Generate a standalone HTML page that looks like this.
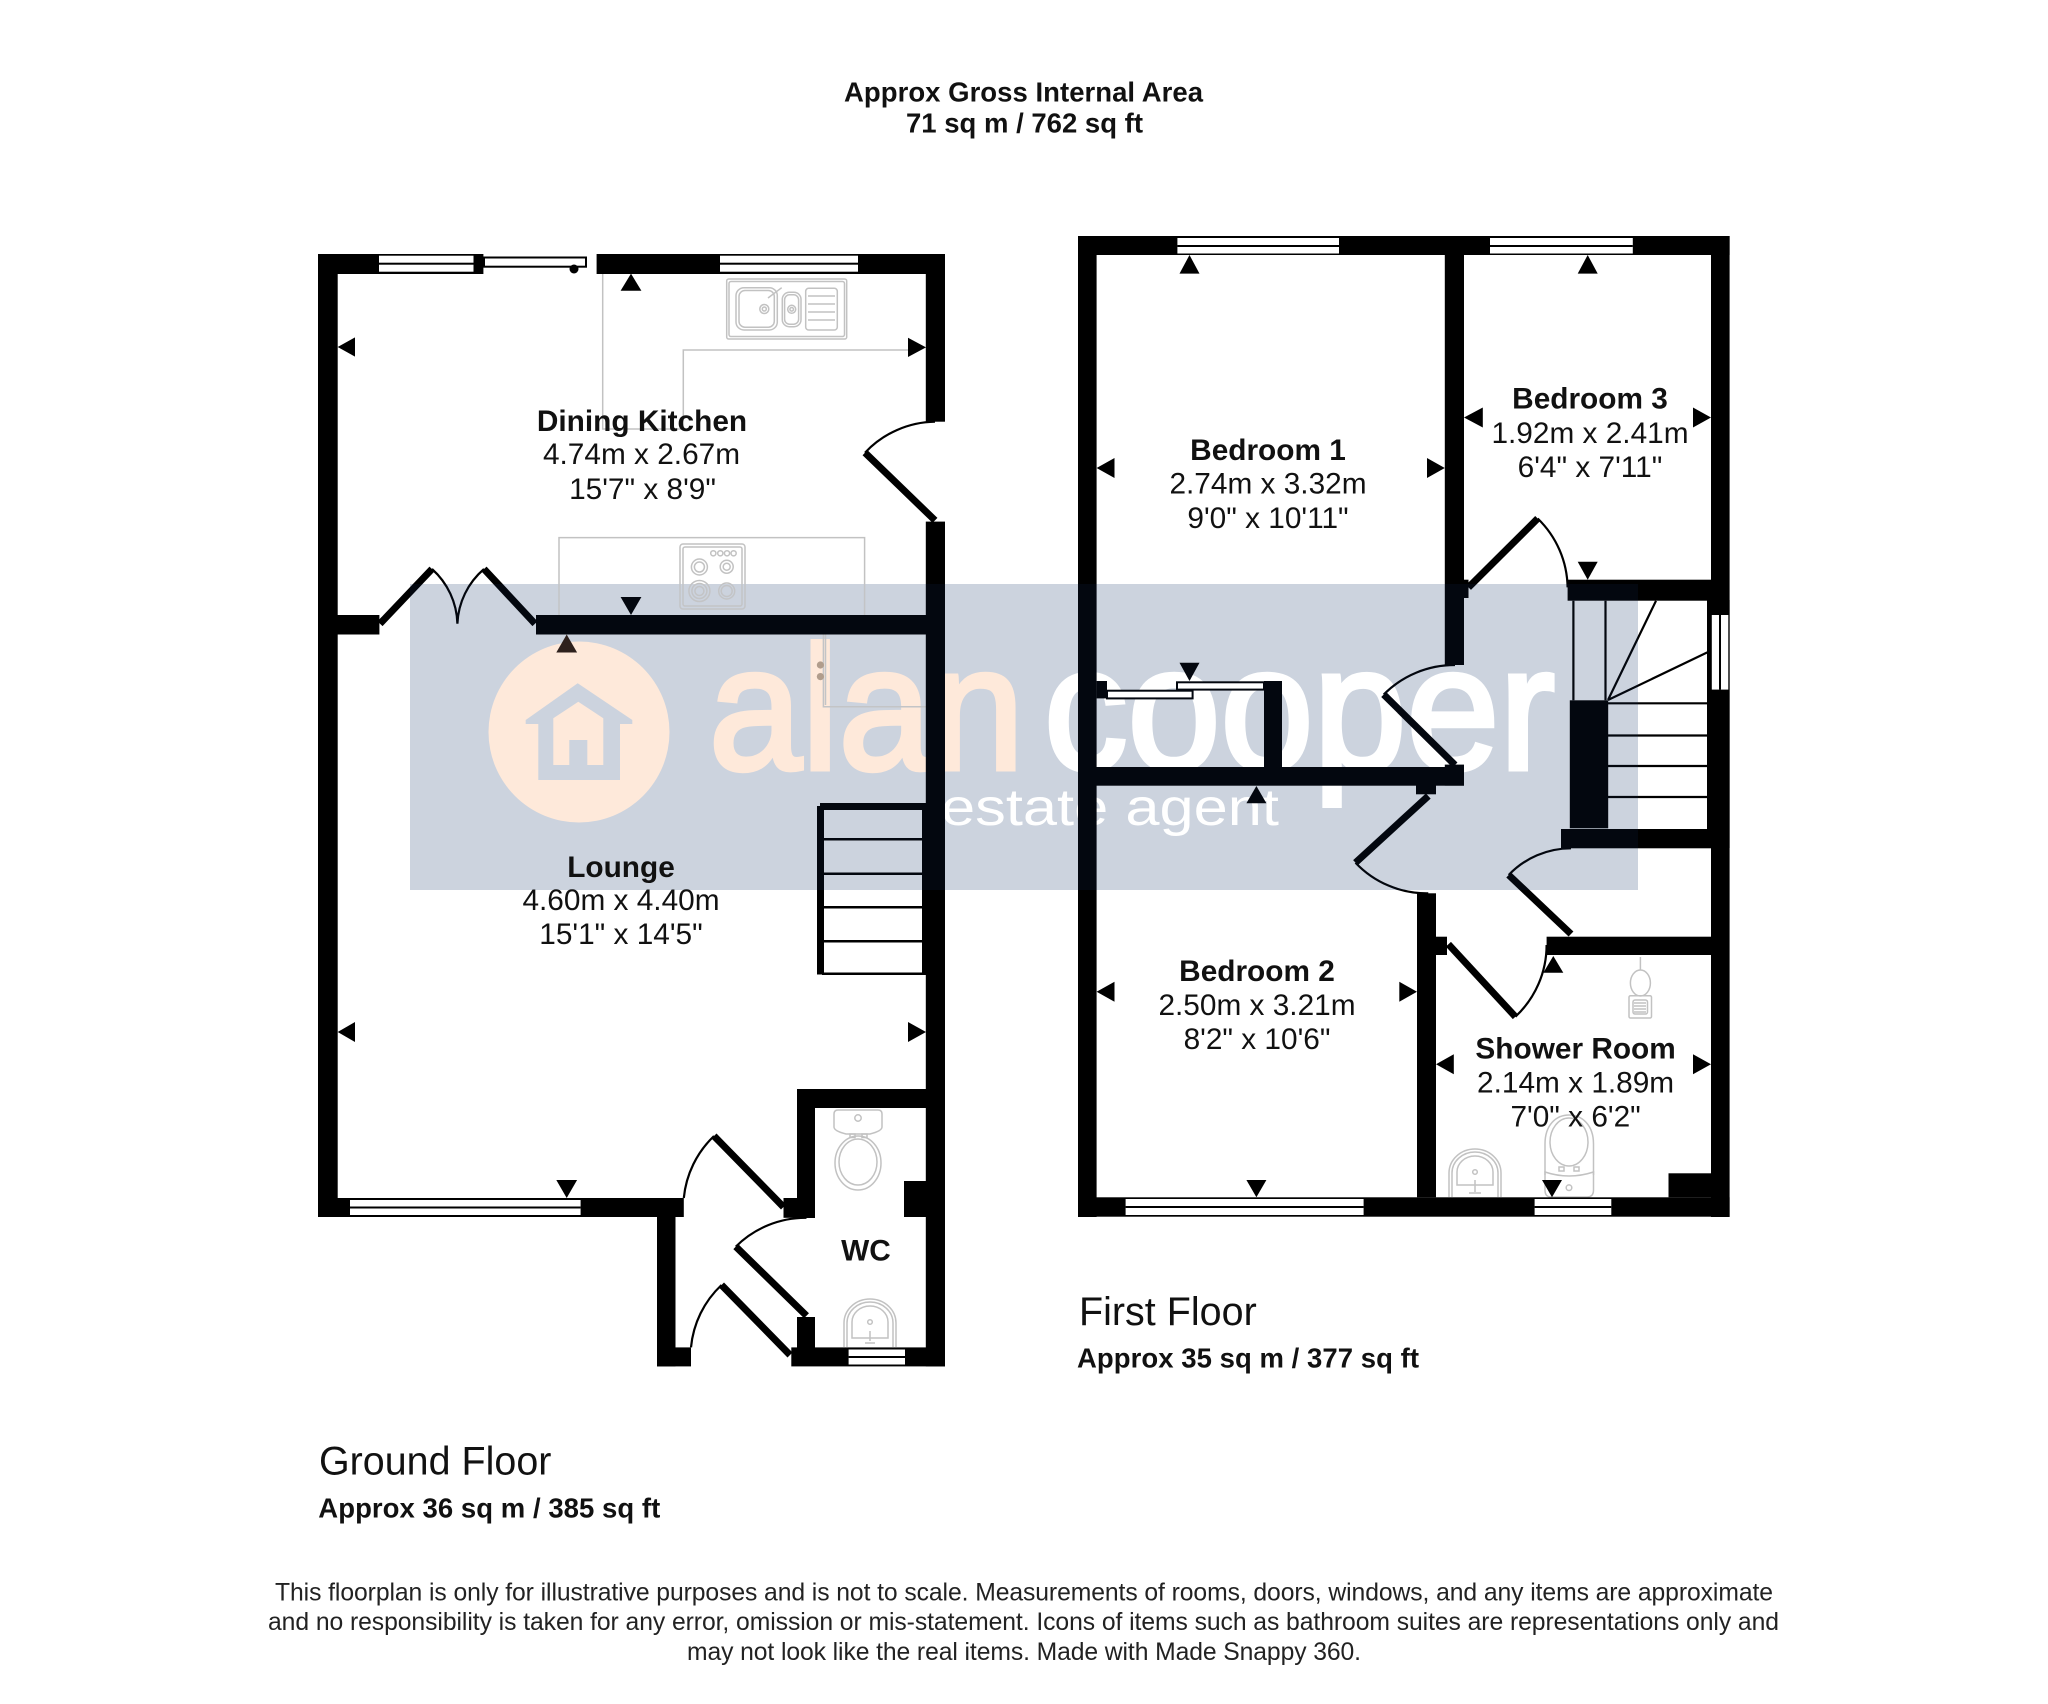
<!DOCTYPE html>
<html><head><meta charset="utf-8"><title>Floorplan</title>
<style>
html,body{margin:0;padding:0;background:#fff;width:2048px;height:1704px;overflow:hidden}
svg{display:block}
text{font-family:"Liberation Sans",sans-serif;fill:#111}
.b{font-weight:700;font-size:29.8px}
.r{font-size:29.8px}
.m{text-anchor:middle}
.g{fill:none;stroke:#c2c2c2;stroke-width:1.5}
.l{fill:none;stroke:#000;stroke-width:7}
.a{fill:none;stroke:#000;stroke-width:2.2}
.t{fill:none;stroke:#000;stroke-width:2.5}
</style></head><body>
<svg xmlns="http://www.w3.org/2000/svg" width="2048" height="1704" viewBox="0 0 2048 1704">
<rect width="2048" height="1704" fill="#fff"/>

<!-- watermark -->
<rect x="410" y="584" width="1228" height="306" fill="#cbd2dc"/>
<circle cx="579" cy="732" r="90.5" fill="#fee8d8"/>
<path d="M577.7 683.3L632.3 720V724H620V780H538.3V724H525.7V720Z" fill="#cbd2dc"/>
<path d="M578.3 701.7L603.3 718.3V765H553.3V718.3Z" fill="#fee8d8"/>
<rect x="569.3" y="740" width="18" height="25" fill="#cbd2dc"/>
<text x="709" y="769" font-size="176" textLength="315" lengthAdjust="spacingAndGlyphs" style="fill:#fee8d8;stroke:#fee8d8;stroke-width:5">alan</text>
<text x="1044" y="769" font-size="176" textLength="511" lengthAdjust="spacingAndGlyphs" style="fill:#fff;stroke:#fff;stroke-width:5">cooper</text>
<text x="941" y="825" font-size="52" textLength="338" lengthAdjust="spacingAndGlyphs" style="fill:#fff">estate agent</text>

<!-- GROUND FLOOR fixtures -->
<g class="g">
<path d="M602.7 274V429H683.3V350H911"/>
<path d="M559 615V537.6H864.6V615"/>
<path d="M823.4 634.5V706.8H926M825.5 634.5V705"/>
<!-- sink -->
<rect x="726.7" y="279" width="120" height="60" rx="2"/>
<rect x="729" y="281.5" width="115.5" height="55" rx="2"/>
<rect x="736" y="287.7" width="41.3" height="42.3" rx="8"/>
<rect x="739" y="290.5" width="35.3" height="36.7" rx="6"/>
<circle cx="764.3" cy="309" r="4.5"/><circle cx="764.3" cy="309" r="2"/>
<path d="M768 298L781.7 287.7"/>
<rect x="782.3" y="292.3" width="18.7" height="34.4" rx="7"/>
<rect x="784.6" y="294.8" width="14" height="29.4" rx="5"/>
<circle cx="791.7" cy="309.3" r="4"/><circle cx="791.7" cy="309.3" r="1.8"/>
<rect x="805.7" y="288.3" width="31.6" height="41.7" rx="3"/>
<path d="M808 296h27M808 304h27M808 312h27M808 320h27"/>
<!-- hob -->
<rect x="680" y="544" width="65" height="65" rx="3"/>
<rect x="683" y="547" width="59" height="59" rx="2"/>
<circle cx="713.3" cy="553.3" r="2.6"/><circle cx="720.3" cy="553.3" r="2.6"/><circle cx="727" cy="553.3" r="2.6"/><circle cx="733.6" cy="553.3" r="2.6"/>
<circle cx="699.4" cy="567" r="8"/><circle cx="699.4" cy="567" r="5"/>
<circle cx="726.7" cy="566.7" r="6.5"/><circle cx="726.7" cy="566.7" r="3.5"/>
<circle cx="699.4" cy="591" r="10.5"/><circle cx="699.4" cy="591" r="7.5"/><circle cx="699.4" cy="591" r="4.5"/>
<circle cx="726.7" cy="591" r="8"/><circle cx="726.7" cy="591" r="5.5"/>
<!-- WC toilet -->
<path d="M838 1110H878Q882 1110 882 1114V1127Q882 1131 870 1134H846Q834 1131 834 1127V1114Q834 1110 838 1110Z"/>
<circle cx="858" cy="1118" r="3.2"/>
<rect x="850" y="1134" width="5" height="3.5"/><rect x="862" y="1134" width="5" height="3.5"/>
<ellipse cx="858" cy="1163" rx="23" ry="27"/>
<ellipse cx="858" cy="1162" rx="19" ry="23"/>
<!-- WC basin -->
<path d="M844 1347V1323A26 24 0 0 1 896 1323V1347"/>
<path d="M847 1347V1323A23 21 0 0 1 893 1323V1347"/>
<path d="M852 1338V1322A18 16 0 0 1 888 1322V1338Z"/>
<circle cx="870" cy="1322" r="2.3"/>
<path d="M870 1331V1341M865 1343h10"/>
<!-- shower head -->
<path d="M1640.4 957V970"/>
<ellipse cx="1640.4" cy="983" rx="10" ry="13"/>
<rect x="1629" y="995.7" width="22.5" height="22.3" rx="1.5"/>
<rect x="1633" y="1000" width="14.5" height="14" rx="2"/>
<path d="M1634 1003h12M1634 1006h12M1634 1009h12M1634 1012h12"/>
<!-- shower toilet -->
<path d="M1545 1175V1144C1545 1125 1556 1115 1569 1115C1582 1115 1593.5 1125 1593.5 1144V1175"/>
<ellipse cx="1569" cy="1142" rx="19" ry="24"/>
<path d="M1545 1172Q1569 1180 1593.5 1172V1190Q1593.5 1197 1587 1197H1551Q1545 1197 1545 1190Z"/>
<circle cx="1569" cy="1187.7" r="2.8"/>
<rect x="1559" y="1167" width="5" height="4"/><rect x="1574" y="1167" width="5" height="4"/>
<!-- shower basin -->
<path d="M1449 1197V1173A26 24 0 0 1 1501 1173V1197"/>
<path d="M1452 1197V1173A23 21 0 0 1 1498 1173V1197"/>
<path d="M1457 1185V1172A18 16 0 0 1 1493 1172V1185Z"/>
<circle cx="1475" cy="1172" r="2.3"/>
<path d="M1475 1180V1192M1469 1193h12"/>
</g>
<circle cx="820.4" cy="665" r="3.6" fill="#b09a85"/>
<circle cx="820.4" cy="676.6" r="3.6" fill="#b09a85"/>

<!-- GROUND walls -->
<g fill="#000">
<rect x="318" y="254" width="165.4" height="20"/>
<rect x="596.6" y="254" width="348.4" height="20"/>
<rect x="318" y="254" width="19.7" height="963"/>
<rect x="925.8" y="254" width="19.2" height="167.7"/>
<rect x="925.8" y="521.6" width="19.2" height="844.8"/>
<rect x="337" y="615" width="42.4" height="19.5"/>
<rect x="536" y="615" width="390" height="19.5"/>
<rect x="318" y="1198" width="365.8" height="19"/>
<rect x="657" y="1198" width="18.5" height="168.4"/>
<rect x="657" y="1347.4" width="34" height="19"/>
<rect x="797" y="1089" width="129" height="19"/>
<rect x="797" y="1089" width="18" height="128"/>
<rect x="783.5" y="1198" width="23" height="19.8"/>
<rect x="797" y="1198" width="18" height="20"/>
<rect x="904" y="1181" width="22" height="36"/>
<rect x="797" y="1317" width="18" height="31"/>
<rect x="791.3" y="1347.4" width="153.7" height="19"/>
<!-- stairs ground -->
<rect x="820" y="803" width="106" height="7"/>
<rect x="817" y="806" width="7" height="168.5"/>
<rect x="922" y="803" width="5" height="172"/>
</g>
<path class="t" d="M822 839.3H922M822 873.7H922M822 907.3H922M822 941.3H922M822 973.8H926"/>

<!-- windows ground -->
<g fill="#fff">
<rect x="379" y="255.7" width="94.5" height="16"/>
<rect x="720" y="255.7" width="138" height="16"/>
<rect x="350" y="1200" width="230.6" height="15"/>
<rect x="848.6" y="1349.5" width="56.4" height="15"/>
<rect x="484" y="257.5" width="102" height="9.2" stroke="#000" stroke-width="2"/>
</g>
<g fill="#000">
<rect x="379" y="262.7" width="94.5" height="2"/>
<rect x="720" y="262.7" width="138" height="2"/>
<rect x="350" y="1206.5" width="230.6" height="2"/>
<rect x="848.6" y="1356" width="56.4" height="2"/>
<circle cx="574" cy="269" r="4.5"/>
</g>

<!-- doors ground -->
<path class="l" d="M935 520.4L865 452.7"/>
<path class="a" d="M865 452.7A98 98 0 0 1 935 421.7"/>
<path class="l" d="M380 623.7L432 569M535 623.7L484 569"/>
<path class="a" d="M432 569A76 76 0 0 1 457.4 623.7M484 569A76 76 0 0 0 457.4 623.7"/>
<path class="l" d="M783.5 1207L714 1136"/>
<path class="a" d="M714 1136A99 99 0 0 0 683.8 1198"/>
<path class="l" d="M806.5 1315.8L735.8 1246.6"/>
<path class="a" d="M735.8 1246.6A99 99 0 0 1 806.5 1217.8"/>
<path class="l" d="M790 1355L721.5 1285"/>
<path class="a" d="M721.5 1285A98 98 0 0 0 691 1347.4"/>

<!-- FIRST walls -->
<g fill="#000">
<rect x="1078" y="236" width="651.6" height="19"/>
<rect x="1078" y="236" width="18.6" height="981"/>
<rect x="1711" y="236" width="18.6" height="981"/>
<rect x="1078" y="1197.3" width="651.6" height="19.4"/>
<rect x="1444.8" y="255" width="19.2" height="410"/>
<rect x="1464" y="579.7" width="4.5" height="18.3"/>
<rect x="1567.6" y="579.7" width="143.4" height="21"/>
<rect x="1096" y="767" width="368" height="18.7"/>
<rect x="1444.8" y="764.6" width="19.2" height="21"/>
<rect x="1264" y="681" width="18" height="86"/>
<rect x="1096.6" y="681" width="10.4" height="17.4"/>
<rect x="1416" y="785" width="20" height="9.3"/>
<rect x="1417" y="893.3" width="19" height="304"/>
<rect x="1436" y="936.7" width="11" height="18.3"/>
<rect x="1546.6" y="936.7" width="164.4" height="18.3"/>
<rect x="1569.8" y="700.3" width="38.4" height="128"/>
<rect x="1561" y="829" width="150" height="19.3"/>
<rect x="1668.5" y="1173.3" width="42.5" height="24"/>
<rect x="1707" y="600" width="22.6" height="248"/>
</g>
<path class="t" d="M1573.4 600.8V700.3M1605.5 600.8V700.3M1608 700L1656 600.8M1608 700L1707.3 652.4M1608 703.3H1707M1608 735.5H1707M1608 766H1707M1608 797H1707" style="stroke-width:2.2"/>

<!-- windows first -->
<g fill="#fff">
<rect x="1177.4" y="238" width="161.6" height="15.5"/>
<rect x="1490" y="238" width="142.8" height="15.5"/>
<rect x="1125.6" y="1199" width="238" height="16"/>
<rect x="1534.6" y="1199" width="76.7" height="16"/>
<rect x="1711.8" y="615" width="16.5" height="74.6"/>
<rect x="1107" y="690.7" width="85.6" height="7.7" stroke="#000" stroke-width="2"/>
<rect x="1177" y="682.3" width="87" height="7.3" stroke="#000" stroke-width="2"/>
</g>
<g fill="#000">
<rect x="1177.4" y="245" width="161.6" height="2"/>
<rect x="1490" y="245" width="142.8" height="2"/>
<rect x="1125.6" y="1206" width="238" height="2"/>
<rect x="1534.6" y="1206" width="76.7" height="2"/>
<rect x="1719" y="615" width="2" height="74.6"/>
</g>

<!-- doors first -->
<path class="l" d="M1468.5 587.4L1537.7 518.5"/>
<path class="a" d="M1537.7 518.5A98 98 0 0 1 1567.6 587.4"/>
<path class="l" d="M1455 765L1383.7 694.5"/>
<path class="a" d="M1383.7 694.5A100 100 0 0 1 1455 665"/>
<path class="l" d="M1428.3 796L1355.5 862.7"/>
<path class="a" d="M1355.5 862.7A98 98 0 0 0 1428.3 893.3"/>
<path class="l" d="M1571 934L1508.7 875"/>
<path class="a" d="M1508.7 875A86 86 0 0 1 1571 848.3"/>
<path class="l" d="M1448.4 944.3L1515.4 1016.7"/>
<path class="a" d="M1515.4 1016.7A98 98 0 0 0 1546.6 945"/>

<!-- arrowheads -->
<g fill="#000">
<path d="M620.6 290.8L631 273.6L641.4 290.8Z"/>
<path d="M337.7 347L355 337.4V356.6Z"/>
<path d="M926 347.4L908 337.8V357Z"/>
<path d="M620.6 597L631 615L641.4 597Z"/>
<path d="M556.3 652.5L566.7 634.5L577.1 652.5Z" fill="#2a1a0e"/>
<path d="M337.7 1032L355 1022V1042Z"/>
<path d="M926 1032L908 1022V1042Z"/>
<path d="M556.3 1180L566.7 1198L577.1 1180Z"/>
<path d="M1179.5 273.6L1189.5 255L1199.5 273.6Z"/>
<path d="M1577.7 273.6L1587.7 255L1597.7 273.6Z"/>
<path d="M1096.6 468L1114.5 458V478Z"/>
<path d="M1444.8 468L1427 458V478Z"/>
<path d="M1464 417.5L1482.8 407.5V427.5Z"/>
<path d="M1711 417.5L1693 407.5V427.5Z"/>
<path d="M1577.7 561.7L1587.7 579.7L1597.7 561.7Z"/>
<path d="M1179.5 662.8L1189.5 681L1199.5 662.8Z"/>
<path d="M1246.4 803.3L1256.4 786L1266.4 803.3Z"/>
<path d="M1096.6 991.7L1114.5 981.7V1001.7Z"/>
<path d="M1417 991.7L1399.3 981.7V1001.7Z"/>
<path d="M1246.4 1180L1256.4 1197.3L1266.4 1180Z"/>
<path d="M1543.3 972.7L1553.3 956L1563.3 972.7Z"/>
<path d="M1436 1064.3L1453.8 1054.3V1074.3Z"/>
<path d="M1711 1064.3L1693 1054.3V1074.3Z"/>
<path d="M1542 1180L1552 1197.3L1562 1180Z"/>
</g>

<!-- slight lift of blacks under watermark -->
<rect x="410" y="584" width="1228" height="306" fill="#03070f" style="mix-blend-mode:screen"/>

<!-- labels -->
<text class="b m" x="642" y="431">Dining Kitchen</text>
<text class="r m" x="641.5" y="464">4.74m x 2.67m</text>
<text class="r m" x="642.5" y="499">15'7" x 8'9"</text>

<text class="b m" x="621" y="877">Lounge</text>
<text class="r m" x="621" y="910">4.60m x 4.40m</text>
<text class="r m" x="621" y="944">15'1" x 14'5"</text>

<text class="b m" x="866" y="1260.4">WC</text>

<text class="b m" x="1268" y="460">Bedroom 1</text>
<text class="r m" x="1268" y="493.6">2.74m x 3.32m</text>
<text class="r m" x="1268" y="528">9'0" x 10'11"</text>

<text class="b m" x="1590" y="408.7">Bedroom 3</text>
<text class="r m" x="1590" y="443">1.92m x 2.41m</text>
<text class="r m" x="1590" y="477">6'4" x 7'11"</text>

<text class="b m" x="1257" y="981">Bedroom 2</text>
<text class="r m" x="1257" y="1015">2.50m x 3.21m</text>
<text class="r m" x="1257" y="1049">8'2" x 10'6"</text>

<text class="b m" x="1575.6" y="1058.3">Shower Room</text>
<text class="r m" x="1575.6" y="1092.3">2.14m x 1.89m</text>
<text class="r m" x="1575.6" y="1126.7">7'0" x 6'2"</text>

<text x="844" y="101.7" font-size="27.5" font-weight="700" textLength="359">Approx Gross Internal Area</text>
<text x="906" y="132.7" font-size="27.5" font-weight="700" textLength="237">71 sq m / 762 sq ft</text>

<text x="319" y="1474.3" font-size="39.4" textLength="232.4">Ground Floor</text>
<text x="318.3" y="1517.7" font-size="27.5" font-weight="700" textLength="342">Approx 36 sq m / 385 sq ft</text>
<text x="1079" y="1325" font-size="39.4" textLength="177.7">First Floor</text>
<text x="1077" y="1367.7" font-size="27.5" font-weight="700" textLength="342">Approx 35 sq m / 377 sq ft</text>

<g>
<text x="275" y="1600.7" font-size="24.7" textLength="1498" style="fill:#222">This floorplan is only for illustrative purposes and is not to scale. Measurements of rooms, doors, windows, and any items are approximate</text>
<text x="268" y="1630" font-size="24.7" textLength="1511" style="fill:#222">and no responsibility is taken for any error, omission or mis-statement. Icons of items such as bathroom suites are representations only and</text>
<text x="687" y="1660" font-size="24.7" textLength="674" style="fill:#222">may not look like the real items. Made with Made Snappy 360.</text>
</g>
</svg>
</body></html>
